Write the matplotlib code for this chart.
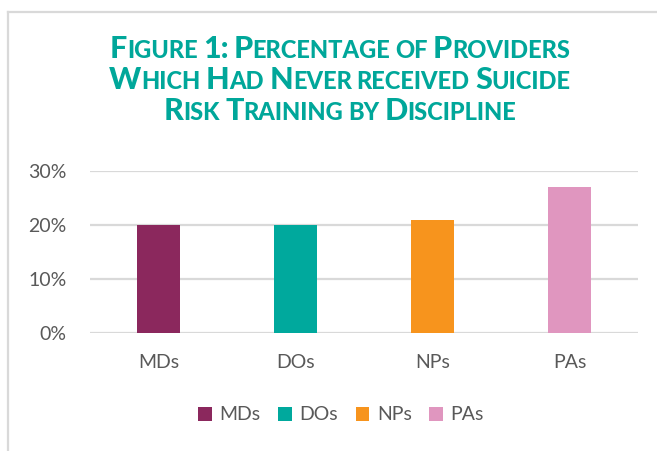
import matplotlib
matplotlib.use("Agg")
import matplotlib.pyplot as plt
from matplotlib.lines import Line2D

# Data
categories = ["MDs", "DOs", "NPs", "PAs"]
values = [0.20, 0.20, 0.21, 0.27]
colors = ["#8B285D", "#00A99D", "#F7941D", "#E096BF"]
yticks = [0, 0.10, 0.20, 0.30]
ytick_labels = ["0%", "10%", "20%", "30%"]

# Title in small caps: (text, big capital?)
title_lines = [
    [[("F", 1), ("IGURE", 0)], [("1:", 1)], [("P", 1), ("ERCENTAGE", 0)],
     [("OF", 0)], [("P", 1), ("ROVIDERS", 0)]],
    [[("W", 1), ("HICH", 0)], [("H", 1), ("AD", 0)], [("N", 1), ("EVER", 0)],
     [("RECEIVED", 0)], [("S", 1), ("UICIDE", 0)]],
    [[("R", 1), ("ISK", 0)], [("T", 1), ("RAINING", 0)], [("BY", 0)],
     [("D", 1), ("ISCIPLINE", 0)]],
]

W, H = 657, 451
fig = plt.figure(figsize=(W / 100, H / 100), dpi=100)
text_color = "#595959"
grid_color = "#D9D9D9"

ax = fig.add_axes([90 / W, 1 - 333 / H, 548 / W, 162 / H])
for i, (cat, val, col) in enumerate(zip(categories, values, colors)):
    ax.bar(i, val, width=0.32, color=col, label=cat, zorder=3)

ax.set_xlim(-0.5, 3.5)
ax.set_ylim(0, 0.30)
ax.set_yticks(yticks)
ax.set_yticklabels(ytick_labels)
ax.set_xticks(range(len(categories)))
ax.set_xticklabels(categories)
ax.tick_params(axis="both", length=0, labelsize=14, labelcolor=text_color)
ax.tick_params(axis="y", pad=17)
ax.tick_params(axis="x", pad=15)
for lab in ax.get_xticklabels() + ax.get_yticklabels():
    lab.set_fontfamily("Lato")
for s in ax.spines.values():
    s.set_visible(False)
ax.yaxis.grid(True, color=grid_color, linewidth=1.6, zorder=0)
ax.set_axisbelow(True)

leg = ax.legend(loc="center", bbox_to_anchor=(341 / W, 1 - 415 / H),
                bbox_transform=fig.transFigure, ncol=4, frameon=False,
                handlelength=0.7, handleheight=0.7, handletextpad=0.4,
                columnspacing=0.9, prop={"family": "Lato", "size": 14})
for t in leg.get_texts():
    t.set_color(text_color)

# Small caps title
title_color = "#00A79A"
big, small = 22, 17
gap = 5
renderer = fig.canvas.get_renderer()
baselines = [58, 89, 120]
for line, base in zip(title_lines, baselines):
    items = []
    for wi, word in enumerate(line):
        for txt, is_big in word:
            t = fig.text(0, 1 - base / H, txt, fontsize=big if is_big else small,
                         fontweight="black", family="Lato", color=title_color,
                         va="baseline", ha="left")
            w = t.get_window_extent(renderer).width
            items.append((t, w, wi))
    total = sum(w for _, w, _ in items) + gap * (len(line) - 1)
    x = 340 - total / 2
    prev = 0
    for t, w, wi in items:
        if wi != prev:
            x += gap
            prev = wi
        t.set_x(x / W)
        x += w

# Frame lines
fig.add_artist(Line2D([8 / W, 8 / W], [0, 1 - 12 / H], transform=fig.transFigure,
                      color=grid_color, linewidth=1.6))
fig.add_artist(Line2D([8 / W, 1], [1 - 12 / H, 1 - 12 / H], transform=fig.transFigure,
                      color=grid_color, linewidth=1.6))

fig.savefig("out.png", dpi=100)
